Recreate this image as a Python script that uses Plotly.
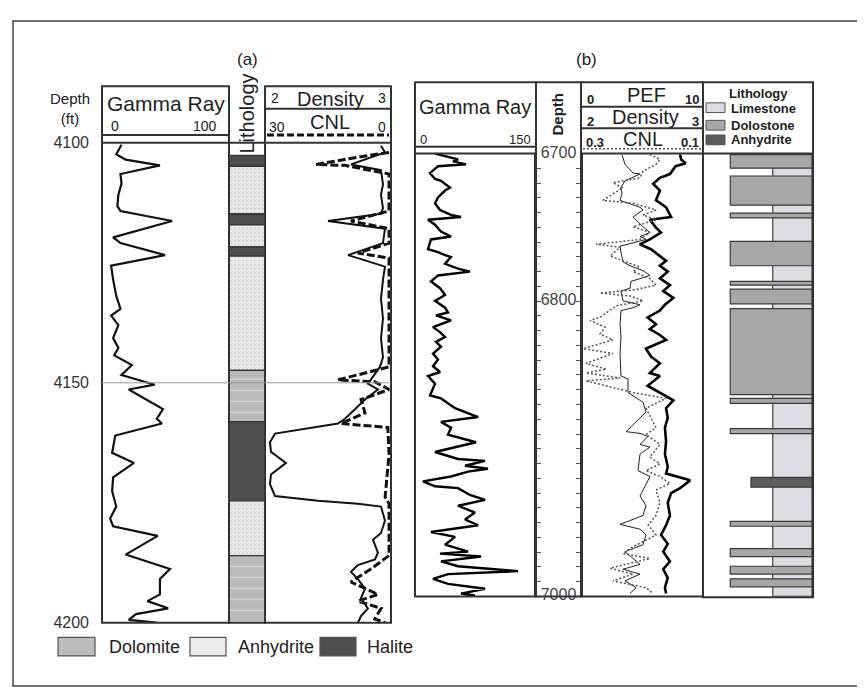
import plotly.graph_objects as go

W, H = 865, 692
FONT = "Arial, 'Liberation Sans', sans-serif"

# ---------------- (a) data ----------------
gr_a_depth = [4100.4, 4102.4, 4103.5, 4104.7, 4106.5, 4108.5, 4110.8, 4113.2, 4114.2, 4116.3,
              4119.7, 4120.9, 4123.4, 4125.6, 4128.5, 4131.9, 4134.6, 4136.0, 4138.0, 4140.7,
              4142.7, 4144.3, 4146.3, 4148.4, 4150.4, 4151.4, 4155.5, 4157.5, 4158.5, 4161.0,
              4164.6, 4166.7, 4169.7, 4172.6, 4175.8, 4178.3, 4179.9, 4181.9, 4185.8, 4188.8,
              4190.9, 4194.1, 4195.5, 4197.0, 4198.2, 4199.4, 4200.0]
gr_a = [13.5, 8.8, 17.2, 48, 12.6, 13.5, 10.7, 9.8, 12.6, 59,
        6, 12.6, 52.6, 4.2, 6, 8.8, 12.6, 4.2, 10.7, 6,
        10.7, 7, 22.8, 13.5, 43.3, 20, 50.7, 45.2, 49.8, 7.9,
        5.1, 24.7, 6, 5.1, 8.8, 3.3, 6, 46, 17.2, 57,
        48, 48, 36.8, 55.4, 26.5, 20, 45]

dens_a_depth = [4100.6, 4102.0, 4104.5, 4105.7, 4108.7, 4110.8, 4113.6, 4114.8, 4116.3, 4117.9,
                4120.9, 4123.4, 4125.8, 4128.5, 4132.5, 4136.6, 4140.7, 4144.7, 4146.7, 4148.2,
                4150.2, 4151.4, 4153.5, 4155.5, 4157.5, 4158.5, 4160.6, 4162.4, 4164.4, 4166.7,
                4169.1, 4171.1, 4173.6, 4174.6, 4175.2, 4175.8, 4178.7, 4181.3, 4182.7, 4185.4,
                4186.8, 4188.0, 4189.4, 4190.9, 4192.9, 4194.9, 4197.0, 4198.6, 4200.0]
dens_a = [2.955, 2.989, 2.70, 2.955, 2.972, 2.955, 2.972, 2.955, 2.505, 2.989,
          2.972, 2.675, 2.989, 2.972, 2.955, 2.972, 2.955, 2.972, 2.946, 2.904,
          2.844, 2.929, 2.819, 2.734, 2.649, 2.59, 2.055, 2.012, 2.021, 2.148,
          2.021, 2.012, 2.055, 2.42, 2.759, 2.955, 2.989, 2.955, 2.887, 2.929,
          2.904, 2.759, 2.70, 2.759, 2.819, 2.785, 2.844, 2.785, 2.759]

cnl_a_depth = [4102.0, 4103.0, 4104.5, 4104.7, 4106.5, 4114.2, 4116.3, 4117.9, 4120.9, 4123.0,
               4124.0, 4146.7, 4149.4, 4149.8, 4151.4, 4153.5, 4156.3, 4158.5, 4159.3, 4165.0,
               4173.8, 4175.2, 4186.0, 4188.8, 4191.5, 4194.1, 4195.5, 4197.0, 4199.2, 4200.0]
cnl_a = [-0.5, 7.4, 18, 10.7, -0.5, -0.5, 9.2, -0.5, -0.5, 7.4,
         -0.5, -0.5, 12.5, 3.1, -0.5, 6.6, 5.6, 11.7, -0.2, -0.5,
         0.5, -0.5, -0.5, 4.1, 9.2, 2.3, 7.4, 1.5, 3.1, 0.5]

lith_a_top = [4102.6, 4104.9, 4114.8, 4117.1, 4121.7, 4123.6, 4147.4, 4158.1, 4174.6, 4186.0]
lith_a_base = [4104.9, 4114.8, 4117.1, 4121.7, 4123.6, 4147.4, 4158.1, 4174.6, 4186.0, 4200.0]
lith_a_kind = ["Halite", "Anhydrite", "Halite", "Anhydrite", "Halite", "Anhydrite",
               "Dolomite", "Halite", "Anhydrite", "Dolomite"]
depth_ticks_a = [4100, 4150, 4200]

# ---------------- (b) data ----------------
gr_b_depth = [6700, 6702, 6704, 6705.3, 6707.3, 6708.6, 6713.2, 6717.2, 6718.5, 6723.1,
              6725.1, 6729.7, 6733.7, 6738.3, 6741.6, 6743, 6744.9, 6748.2, 6752.9, 6756.2,
              6758.2, 6764.8, 6766.8, 6768.8, 6770.1, 6774.7, 6778, 6780, 6782.6, 6786.6,
              6791.2, 6795.8, 6799.8, 6804.4, 6807.7, 6809.7, 6813, 6817.6, 6821, 6824.3,
              6827.6, 6830.9, 6835.5, 6839.5, 6844.1, 6848, 6850.7, 6856, 6863.9, 6865.9,
              6872.5, 6878.5, 6881.8, 6885.7, 6890.4, 6895.6, 6902.2, 6906.9, 6908.2, 6911.5,
              6913.5, 6915.5, 6918.8, 6922.1, 6925.4, 6926.7, 6931.3, 6934.6, 6938.6, 6943.2,
              6947.9, 6951.8, 6956.4, 6959.7, 6965, 6969.7, 6971, 6973, 6976.3, 6979.6,
              6982.9, 6984.9, 6988.2, 6991.5, 6994.8, 6998.1, 6999.4]
gr_b = [21.8, 39.2, 52.6, 45.9, 63.3, 25.8, 15.1, 21.8, 29.8, 41.9,
        35.2, 25.8, 21.8, 28.5, 43.2, 56.6, 12.4, 21.8, 29.8, 43.2,
        16.4, 12.4, 25.8, 35.2, 43.2, 35.2, 52.6, 68.6, 25.8, 16.4,
        28.5, 35.2, 21.8, 35.2, 39.2, 23.1, 43.2, 19.1, 28.5, 35.2,
        23.1, 29.8, 19.1, 25.8, 19.1, 28.5, 12.4, 21.8, 15.1, 29.8,
        48.6, 79.4, 29.8, 43.2, 39.2, 76.7, 21.8, 52.6, 88.7, 62,
        92.7, 66, 43.2, 5.7, 21.8, 52.6, 68.6, 88.7, 52.6, 75.3,
        62, 79.4, 16.4, 48.6, 35.2, 66, 28.5, 83.4, 29.8, 52.6,
        132.9, 39.2, 19.1, 39.2, 88.7, 56.6, 75.3]

dens_b_depth = [6700.7, 6704, 6706.6, 6708.6, 6713.9, 6716.5, 6720.5, 6725.1, 6731.7, 6736.4,
                6743, 6744.9, 6750.2, 6753.5, 6758.2, 6761.5, 6764.8, 6769.4, 6772.7, 6776,
                6780, 6784.6, 6789.2, 6793.2, 6797.8, 6802.4, 6806.4, 6811, 6815.7, 6819,
                6822.9, 6826.2, 6832.2, 6837.5, 6842.1, 6848.7, 6850.7, 6857.3, 6861.9, 6867.2,
                6872.5, 6879.1, 6885.7, 6895, 6903.6, 6912.2, 6916.8, 6921.4, 6926.7, 6930,
                6936.6, 6945.2, 6951.8, 6958.4, 6964.4, 6969.7, 6976.3, 6981.6, 6987.5, 6994.1,
                6998]
dens_b = [2.84, 2.85, 2.89, 2.80, 2.75, 2.66, 2.60, 2.66, 2.625, 2.715,
          2.76, 2.57, 2.625, 2.67, 2.57, 2.48, 2.58, 2.66, 2.715, 2.66,
          2.73, 2.66, 2.75, 2.69, 2.78, 2.705, 2.66, 2.55, 2.625, 2.57,
          2.66, 2.715, 2.535, 2.58, 2.66, 2.57, 2.66, 2.55, 2.66, 2.78,
          2.715, 2.73, 2.705, 2.715, 2.705, 2.73, 2.715, 2.93, 2.84, 2.76,
          2.73, 2.75, 2.715, 2.67, 2.73, 2.69, 2.75, 2.69, 2.73, 2.705,
          2.715]

pef_b_depth = [6700.7, 6707.3, 6713.2, 6713.9, 6718.5, 6723.1, 6727.1, 6731.7, 6736.4, 6738.3,
               6743, 6749.6, 6753.5, 6756.2, 6758.2, 6760.1, 6762.8, 6766.8, 6773.4, 6776,
               6779.3, 6782.6, 6786.6, 6791.2, 6793.2, 6799.8, 6802.4, 6804.4, 6806.4, 6815.7,
               6824.3, 6835.5, 6846.1, 6850.7, 6852.7, 6861.9, 6868.5, 6875.1, 6888.4, 6889.6,
               6891.7, 6897, 6898.9, 6903.6, 6914.8, 6918.8, 6928, 6932, 6938.6, 6945.2,
               6951.2, 6954.5, 6958.4, 6965, 6969.7, 6974.3, 6978.3, 6981.6, 6984.9, 6989.5,
               6994.1, 6998]
pef_b = [3.21, 3.48, 4.2, 4.82, 3.48, 3.12, 3.21, 3.04, 4.82, 5.09,
         4.2, 5.09, 5.72, 4.82, 5.36, 4.47, 3.04, 3.12, 3.3, 3.93,
         5.09, 5.72, 4.02, 3.93, 3.12, 3.3, 4.82, 4.2, 3.12, 3.04,
         3.12, 3.04, 3.12, 3.12, 3.75, 3.75, 5.09, 5.36, 3.57, 4.82,
         5.54, 4.82, 5.72, 4.82, 4.64, 5.72, 5.09, 4.82, 5.36, 5.09,
         3.04, 4.82, 5.36, 5.09, 3.48, 4.2, 4.82, 3.3, 4.82, 3.48,
         4.47, 3.93]

cnl_b_depth = [6700.7, 6704, 6707.3, 6711.9, 6716.5, 6719.8, 6723.1, 6731.7, 6733.7, 6738.3,
               6741.6, 6744.9, 6749.6, 6753.5, 6758.2, 6761.5, 6763.5, 6769.4, 6773.4, 6776.7,
               6780, 6784.6, 6789.2, 6792.5, 6794.5, 6796.5, 6799.8, 6803.1, 6811, 6813,
               6817.6, 6822.3, 6826.2, 6832.2, 6835.5, 6842.1, 6846.1, 6848.7, 6852, 6854,
               6861.9, 6865.9, 6872.5, 6885.7, 6890.4, 6897, 6905.6, 6910.2, 6914.8, 6918.8,
               6923.4, 6928, 6936.6, 6945.2, 6951.8, 6958.4, 6966.4, 6971, 6974.3, 6980.9,
               6984.9, 6989.5, 6994.1, 6998]
cnl_b = [0.186, 0.168, 0.175, 0.198, 0.204, 0.252, 0.234, 0.27, 0.216, 0.175,
         0.198, 0.175, 0.216, 0.186, 0.204, 0.282, 0.239, 0.257, 0.229, 0.204,
         0.216, 0.186, 0.175, 0.216, 0.275, 0.221, 0.198, 0.246, 0.275, 0.293,
         0.266, 0.275, 0.252, 0.305, 0.252, 0.3, 0.264, 0.3, 0.239, 0.3,
         0.216, 0.157, 0.193, 0.175, 0.193, 0.168, 0.186, 0.168, 0.193, 0.168,
         0.15, 0.175, 0.168, 0.175, 0.189, 0.175, 0.216, 0.234, 0.186, 0.257,
         0.216, 0.252, 0.193, 0.18]

lith_b_top = [6700.7, 6715.2, 6740.3, 6759.5, 6786.6, 6791.9, 6805.1, 6865.9, 6886.4, 6919.4,
              6949.2, 6967.7, 6979.6, 6988.2]
lith_b_base = [6709.9, 6735.0, 6743.6, 6776.0, 6789.2, 6801.8, 6863.3, 6869.2, 6889.7, 6926.0,
               6952.5, 6973.0, 6984.9, 6993.5]
lith_b_kind = ["Dolostone"] * 9 + ["Anhydrite"] + ["Dolostone"] * 4
depth_labels_b = [6700, 6800, 7000]


def px(x):
    return x / W


def py(y):
    return 1 - y / H


fig = go.Figure()

# ---- (a) gamma ray
fig.add_trace(go.Scatter(x=gr_a, y=gr_a_depth, mode="lines", xaxis="x", yaxis="y",
                         line=dict(color="#111111", width=2.2)))

# ---- (a) lithology column
lith_a_style = {
    "Halite": dict(color="#4d4d4d", pattern=dict(shape="")),
    "Anhydrite": dict(color="#e9e9e9", pattern=dict(shape=".", fgcolor="#c4c4c4", bgcolor="#e9e9e9",
                                                     size=4, solidity=0.25)),
    "Dolomite": dict(color="#b9b9b9", pattern=dict(shape="-", fgcolor="#f2f2f2", bgcolor="#b9b9b9",
                                                    size=11, solidity=0.12)),
}
for top, base, kind in zip(lith_a_top, lith_a_base, lith_a_kind):
    st = lith_a_style[kind]
    fig.add_trace(go.Bar(x=[0.5], y=[base - top], base=[top], width=1, xaxis="x2", yaxis="y",
                         marker=dict(color=st["color"], pattern=st["pattern"],
                                     line=dict(color="#333333", width=1.2))))

# ---- (a) density + CNL
fig.add_trace(go.Scatter(x=dens_a, y=dens_a_depth, mode="lines", xaxis="x3", yaxis="y",
                         line=dict(color="#111111", width=2)))
fig.add_trace(go.Scatter(x=cnl_a, y=cnl_a_depth, mode="lines", xaxis="x4", yaxis="y",
                         line=dict(color="#111111", width=3, dash="8px,3px")))

# ---- (b) gamma ray
fig.add_trace(go.Scatter(x=gr_b, y=gr_b_depth, mode="lines", xaxis="x5", yaxis="y2",
                         line=dict(color="#000000", width=2.4)))

# ---- (b) depth column labels
fig.add_trace(go.Scatter(x=[0.5] * len(depth_labels_b), y=depth_labels_b, mode="text",
                         text=[str(d) for d in depth_labels_b], xaxis="x6", yaxis="y3",
                         cliponaxis=False,
                         textfont=dict(family=FONT, size=16, color="#444444")))

# ---- (b) PEF / density / CNL
fig.add_trace(go.Scatter(x=pef_b, y=pef_b_depth, mode="lines", xaxis="x7", yaxis="y2",
                         line=dict(color="#222222", width=1)))
fig.add_trace(go.Scatter(x=cnl_b, y=cnl_b_depth, mode="lines", xaxis="x9", yaxis="y2",
                         line=dict(color="#555555", width=1.5, dash="2px,2px")))
fig.add_trace(go.Scatter(x=dens_b, y=dens_b_depth, mode="lines", xaxis="x8", yaxis="y2",
                         line=dict(color="#000000", width=2.6)))

# ---- (b) lithology column
fig.add_trace(go.Bar(x=[0.82], y=[300], base=[6700], width=0.36, xaxis="x10", yaxis="y2",
                     marker=dict(color="#dcdde2", line=dict(color="#444444", width=1.2))))
lith_b_style = {
    "Dolostone": dict(color="#a7a7a7", x=0.625, w=0.75),
    "Anhydrite": dict(color="#5c5c5c", x=0.72, w=0.56),
}
for top, base, kind in zip(lith_b_top, lith_b_base, lith_b_kind):
    st = lith_b_style[kind]
    fig.add_trace(go.Bar(x=[st["x"]], y=[base - top], base=[top], width=st["w"],
                         xaxis="x10", yaxis="y2",
                         marker=dict(color=st["color"], line=dict(color="#3a3a3a", width=1.2))))

# ---------------- axes ----------------
hidden = dict(visible=False, fixedrange=True)
ya_dom = [py(622), py(130)]
yb_dom = [py(595), py(141)]
fig.update_layout(
    xaxis=dict(domain=[px(94), px(221)], range=[-4, 110], anchor="y", **hidden),
    yaxis=dict(domain=ya_dom, range=[4200, 4100], anchor="x", showgrid=False, zeroline=False,
               tickvals=depth_ticks_a, ticks="", ticklabelstandoff=12,
               tickfont=dict(family=FONT, size=16, color="#333333")),
    xaxis2=dict(domain=[px(221), px(257)], range=[0, 1], anchor="y", **hidden),
    xaxis3=dict(domain=[px(257), px(383)], range=[1.97, 3.04], anchor="y", **hidden),
    xaxis4=dict(overlaying="x3", range=[31, -1], anchor="y", **hidden),
    xaxis5=dict(domain=[px(407), px(528)], range=[-5, 157], anchor="y2", **hidden),
    yaxis2=dict(domain=yb_dom, range=[7000, 6700], anchor="x5", **hidden),
    xaxis6=dict(domain=[px(528), px(573)], range=[0, 1], anchor="y3", **hidden),
    yaxis3=dict(domain=yb_dom, range=[7000, 6700], anchor="x6", showgrid=False, zeroline=False,
                showticklabels=False, ticks="inside", tick0=6700, dtick=10, ticklen=5,
                tickcolor="#555555", tickwidth=1, showline=True, linecolor="#333333",
                linewidth=2, mirror="ticks"),
    xaxis7=dict(domain=[px(573), px(695)], range=[-0.45, 10.45], anchor="y2", **hidden),
    xaxis8=dict(overlaying="x7", range=[1.955, 3.045], anchor="y2", **hidden),
    xaxis9=dict(overlaying="x7", range=[0.309, 0.091], anchor="y2", **hidden),
    xaxis10=dict(domain=[px(695), px(804)], range=[0, 1], anchor="y2", **hidden),
)

# ---------------- frames / header lines ----------------
shapes = []
LC = "#333333"


def rect(x0, y0, x1, y1, width=2, color=LC, fill=None):
    shapes.append(dict(type="rect", xref="paper", yref="paper", x0=px(x0), x1=px(x1),
                       y0=py(y1), y1=py(y0), line=dict(color=color, width=width),
                       fillcolor=fill, layer="above"))


def hline(x0, x1, y, width=2, color=LC, dash=None):
    shapes.append(dict(type="line", xref="paper", yref="paper", x0=px(x0), x1=px(x1),
                       y0=py(y), y1=py(y), line=dict(color=color, width=width, dash=dash),
                       layer="above"))


rect(5, 5, 860, 687, width=1.5, color="#444444")

# (a)
rect(94, 72, 221, 622)
hline(94, 221, 122)
hline(94, 221, 130)
rect(221, 130, 257, 622)
rect(257, 72, 383, 622)
hline(257, 383, 95)
hline(259, 381, 122, width=3, color="#111111", dash="7px,3px")
hline(257, 383, 130)
shapes.append(dict(type="line", xref="paper", yref="y", x0=px(94), x1=px(383), y0=4150, y1=4150,
                   line=dict(color="#9a9a9a", width=1), layer="above"))

# (a) legend swatches
shapes.append(dict(type="rect", xref="paper", yref="paper", x0=px(50), x1=px(87), y0=py(656),
                   y1=py(637), fillcolor="#bdbdbd", line=dict(color="#555555", width=1.2)))
shapes.append(dict(type="rect", xref="paper", yref="paper", x0=px(182), x1=px(218), y0=py(656),
                   y1=py(637), fillcolor="#ebebeb", line=dict(color="#555555", width=1.2)))
shapes.append(dict(type="rect", xref="paper", yref="paper", x0=px(312), x1=px(348), y0=py(656),
                   y1=py(637), fillcolor="#4d4d4d", line=dict(color="#555555", width=1.2)))

# (b)
rect(407, 68, 528, 595)
hline(407, 528, 134)
hline(407, 528, 141)
rect(528, 68, 573, 595)
rect(573, 68, 695, 595)
hline(573, 695, 93)
hline(573, 695, 115)
hline(575, 693, 136, width=1.5, color="#555555", dash="2px,2px")
hline(573, 695, 141)
rect(695, 68, 805, 596)
hline(695, 805, 141)

# (b) lithology legend swatches
for y0, col in [(89, "#dcdde2"), (107, "#a7a7a7"), (122, "#5c5c5c")]:
    shapes.append(dict(type="rect", xref="paper", yref="paper", x0=px(698), x1=px(717),
                       y0=py(y0 + 10), y1=py(y0), fillcolor=col,
                       line=dict(color="#555555", width=1)))

# ---------------- text ----------------
ann = []


def label(x, y, text, size, anchor="center", bold=False, angle=0, color="#222222"):
    ann.append(dict(x=px(x), y=py(y), xref="paper", yref="paper",
                    text=f"<b>{text}</b>" if bold else text, showarrow=False,
                    xanchor=anchor, yanchor="middle", textangle=angle,
                    font=dict(family=FONT, size=size, color=color)))


label(240, 45, "(a)", 17)
label(62, 95, "Depth<br>(ft)", 15)
label(158, 90, "Gamma Ray", 21)
label(101, 113, "0", 14, "left")
label(211, 113, "100", 14, "right")
label(239, 100, "Lithology", 20, angle=-90)
label(261, 84, "2", 14, "left")
label(380, 84, "3", 14, "right")
label(322, 85, "Density", 20)
label(259, 114, "30", 14, "left")
label(380, 114, "0", 14, "right")
label(322, 109, "CNL", 20)
label(99, 647, "Dolomite", 18, "left")
label(228, 647, "Anhydrite", 18, "left")
label(357, 647, "Halite", 18, "left")

label(578, 45, "(b)", 17)
label(467, 93, "Gamma Ray", 20)
label(410, 127, "0", 13, "left")
label(525, 127, "150", 13, "right")
label(550, 101, "Depth", 15, bold=True, angle=-90)
label(577, 86, "0", 13, "left", bold=True)
label(693, 86, "10", 13, "right", bold=True)
label(638, 81, "PEF", 20)
label(577, 108, "2", 13, "left", bold=True)
label(693, 108, "3", 13, "right", bold=True)
label(637, 104, "Density", 20)
label(576, 130, "0.3", 13, "left", bold=True)
label(693, 130, "0.1", 13, "right", bold=True)
label(635, 126, "CNL", 20)
label(750, 79, "Lithology", 13, bold=True)
label(721, 95, "Limestone", 13, "left", bold=True)
label(721, 112, "Dolostone", 13, "left", bold=True)
label(721, 127, "Anhydrite", 13, "left", bold=True)

fig.update_layout(
    width=W, height=H,
    margin=dict(l=0, r=0, t=0, b=0),
    paper_bgcolor="#ffffff",
    plot_bgcolor="#ffffff",
    showlegend=False,
    barmode="overlay",
    shapes=shapes,
    annotations=ann,
    font=dict(family=FONT, color="#222222"),
)

fig.write_html("out.html", config={"displaylogo": False, "displayModeBar": False})
